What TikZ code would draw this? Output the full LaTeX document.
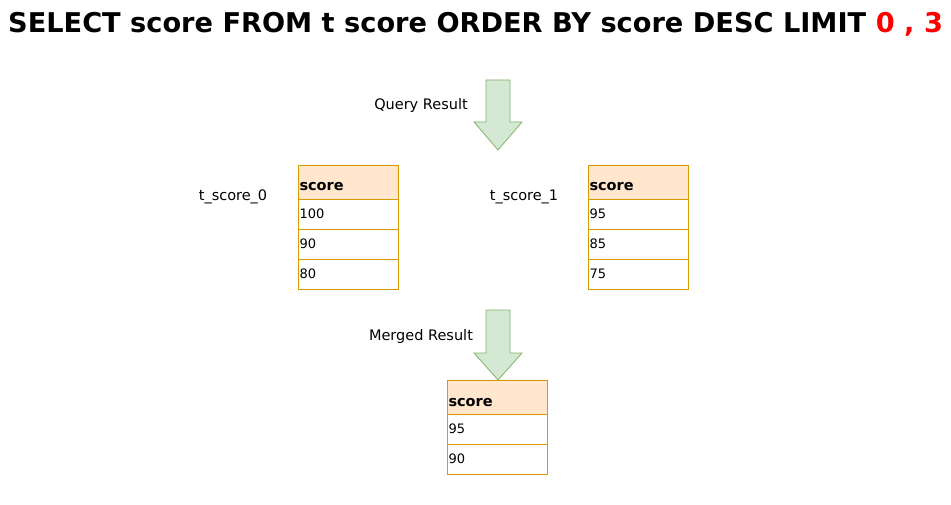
\documentclass[tikz,border=0pt]{standalone}
\usepackage{fontspec}
\setmainfont{DejaVu Sans}
\definecolor{hdrfill}{HTML}{FFE6CC}
\definecolor{hdrline}{HTML}{D79B00}
\definecolor{arrfill}{HTML}{D5E8D4}
\definecolor{arrline}{HTML}{82B366}
\begin{document}
\begin{tikzpicture}[x=1pt,y=-1pt,
  hdr/.style={draw=hdrline, fill=hdrfill, line width=0.9pt, minimum height=34pt, text width=97pt, text height=18pt, text depth=0pt, inner sep=1.5pt, align=left, font=\bfseries\fontsize{14.5}{16}\selectfont, anchor=north west, outer sep=0pt},
  cell/.style={draw=hdrline, fill=white, line width=0.9pt, minimum height=30pt, text width=97pt, inner sep=1.5pt, align=left, font=\fontsize{13}{15}\selectfont, anchor=north west, outer sep=0pt},
  lbl/.style={font=\fontsize{14.5}{16}\selectfont},
  bigarrow/.style={draw=arrline, fill=arrfill, line width=0.8pt}]
\useasboundingbox (0,0) rectangle (951,505);
\node[font=\fontsize{27.2}{30}\selectfont\bfseries, anchor=base west, inner sep=0pt] (title) at (8,33) {SELECT score FROM t score ORDER BY score DESC LIMIT \textcolor{red}{0 , 3}};
% arrows
\draw[bigarrow] (486,80)--(510,80)--(510,122)--(522,122)--(498,150)--(474,122)--(486,122)--cycle;
\node[lbl] (q) at (421,106) {Query Result};
\draw[bigarrow] (486,310)--(510,310)--(510,353)--(522,353)--(498,380)--(474,353)--(486,353)--cycle;
\node[lbl] (m) at (421,336) {Merged Result};
% table 0
\node[lbl] (l0) at (233,197) {t\_score\_0};
\node[hdr] (a0) at (298,165) {score};
\node[cell] (a1) at (298,199) {100};
\node[cell] (a2) at (298,229) {90};
\node[cell] (a3) at (298,259) {80};
% table 1
\node[lbl] (l1) at (524,197) {t\_score\_1};
\node[hdr] (b0) at (588,165) {score};
\node[cell] (b1) at (588,199) {95};
\node[cell] (b2) at (588,229) {85};
\node[cell] (b3) at (588,259) {75};
% merged
\node[hdr] (c0) at (447,380) {score};
\node[cell] (c1) at (447,414) {95};
\node[cell] (c2) at (447,444) {90};
\end{tikzpicture}
\end{document}
